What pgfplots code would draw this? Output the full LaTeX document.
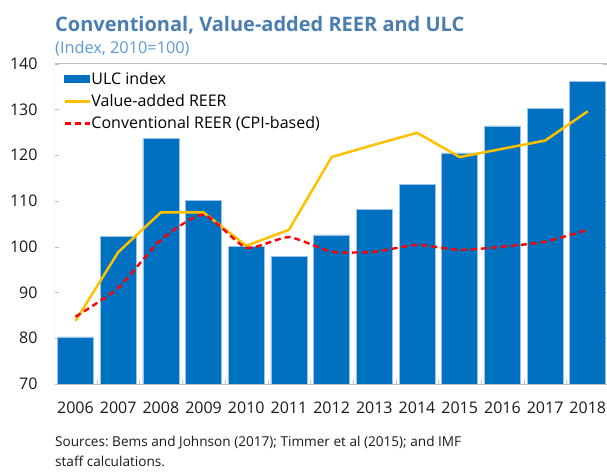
\documentclass[border=0pt]{standalone}
\usepackage{fontspec}
\setmainfont{Open Sans}
\usepackage{pgfplots}
\pgfplotsset{compat=1.18}
\frenchspacing
\definecolor{barblue}{HTML}{0070C0}
\definecolor{baredge}{HTML}{9DC3E6}
\definecolor{vayellow}{HTML}{FFC000}
\definecolor{titleblue}{HTML}{4A7EB0}
\definecolor{subblue}{HTML}{5B9BD5}
\definecolor{axgray}{HTML}{BFBFBF}
\pgfplotsset{
  linelegend/.style={legend image code/.code={\draw[##1] (0pt,0pt) -- (25pt,0pt);}},
  barlegend/.style={legend image code/.code={\fill[barblue] (0pt,-3.5pt) rectangle (25pt,3.5pt);}},
}
\begin{document}
\begin{tikzpicture}
\useasboundingbox (-55pt,-88pt) rectangle (552pt,384pt);
\begin{axis}[
  at={(0pt,0pt)}, anchor=south west,
  scale only axis,
  width=552pt, height=320.3pt,
  xmin=-0.48, xmax=12.45,
  ymin=70, ymax=140,
  ytick={70,80,...,140},
  xtick={0,...,12},
  xticklabels={2006,2007,2008,2009,2010,2011,2012,2013,2014,2015,2016,2017,2018},
  minor xtick={0.5,1.5,...,11.5},
  xtick pos=left, ytick pos=both,
  tick align=inside,
  major x tick style={draw=none},
  minor x tick style={axgray},
  minor tick length=4pt,
  y tick style={axgray},
  major tick length=4pt,
  axis line style={draw=none},
  ticklabel style={font=\fontsize{16}{18}\selectfont, text=black!90},
  /pgf/number format/assume math mode=true,
  xticklabel style={yshift=-14pt},
  yticklabel style={xshift=-14pt},
  legend style={at={(0.015,0.978)}, anchor=north west, draw=none, fill=none,
     font=\fontsize{16}{18}\selectfont, inner xsep=0pt, inner ysep=0pt,
     row sep=5.5pt,
     nodes={inner xsep=0.5pt, inner ysep=1.5pt, anchor=west}},
  legend cell align=left,
]
\addplot[ybar, bar width=36pt, fill=barblue, draw=baredge, line width=0.6pt, barlegend]
  coordinates {(0,80.3) (1,102.3) (2,123.7) (3,110.2) (4,100.0) (5,97.8) (6,102.6)
   (7,108.2) (8,113.7) (9,120.5) (10,126.4) (11,130.3) (12,136.2)};
\addlegendentry{ULC index}
\addplot[vayellow, line width=2.5pt, sharp plot, linelegend]
  coordinates {(0,83.8) (1,98.8) (2,107.5) (3,107.5) (4,100.2) (5,103.7) (6,119.6)
   (7,122.3) (8,124.9) (9,119.6) (10,121.4) (11,123.2) (12,129.6)};
\addlegendentry{Value-added REER}
\addplot[red, line width=2.4pt, dash pattern=on 6pt off 4pt, smooth, tension=0.35, linelegend]
  coordinates {(0,84.7) (1,91.0) (2,101.5) (3,107.0) (4,99.8) (5,102.1) (6,98.9)
   (7,98.9) (8,100.4) (9,99.3) (10,100.0) (11,101.1) (12,103.7)};
\addlegendentry{Conventional REER (CPI-based)}
\draw[axgray, line width=1pt] (rel axis cs:0,1) -- (rel axis cs:0,0) -- (rel axis cs:1,0);
\draw[axgray, line width=1pt] (rel axis cs:0,1) -- (rel axis cs:1,1);
\end{axis}
\node[anchor=base west, inner sep=0pt, text=titleblue, font=\fontsize{20}{24}\selectfont\bfseries] at (0pt,352.3pt) {Conventional, Value-added REER and ULC};
\node[anchor=base west, inner sep=0pt, text=subblue, font=\fontsize{16.3}{19}\selectfont] at (0pt,330.7pt) {(Index, 2010=100)};
\node[anchor=base west, inner sep=0pt, text=black!90, font=\fontsize{13.6}{16}\selectfont] at (0pt,-62.7pt) {Sources: Bems and Johnson (2017); Timmer et al (2015); and IMF};
\node[anchor=base west, inner sep=0pt, text=black!90, font=\fontsize{13.6}{16}\selectfont] at (0pt,-82.7pt) {staff calculations.};
\end{tikzpicture}
\end{document}
